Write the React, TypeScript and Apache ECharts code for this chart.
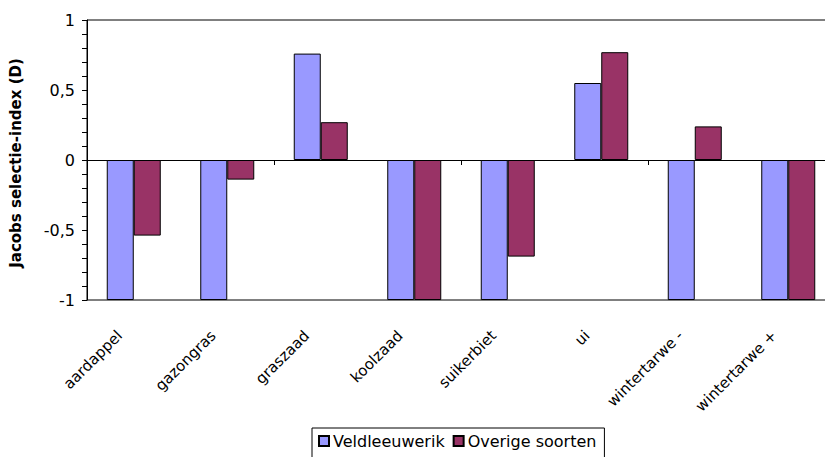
import React, { useEffect, useRef } from "react";
import * as echarts from "echarts";

const categories = [
  "aardappel",
  "gazongras",
  "graszaad",
  "koolzaad",
  "suikerbiet",
  "ui",
  "wintertarwe -",
  "wintertarwe +",
];
const veldleeuwerik = [-1, -1, 0.76, -1, -1, 0.55, -1, -1];
const overigeSoorten = [-0.54, -0.14, 0.27, -1, -0.69, 0.77, 0.24, -1];

const FONT = "DejaVu Sans";

export default function App() {
  const ref = useRef<HTMLDivElement>(null);

  useEffect(() => {
    if (!ref.current) return;
    const chart = echarts.init(ref.current, null, { renderer: "svg" });
    chart.setOption({
      animation: false,
      backgroundColor: "#ffffff",
      textStyle: { fontFamily: FONT, color: "#000" },
      // the plot area runs past the right edge of the visible frame
      grid: {
        left: 84,
        top: 20,
        width: 751,
        height: 280,
        show: true,
        borderColor: "#000",
        borderWidth: 1,
        backgroundColor: "#fff",
      },
      legend: {
        left: 312,
        top: 428,
        padding: [5, 8, 14, 6],
        borderColor: "#000",
        borderWidth: 1,
        borderRadius: 0,
        icon: "rect",
        itemWidth: 10,
        itemHeight: 10,
        itemGap: 8,
        textStyle: { fontFamily: FONT, fontSize: 16, color: "#000", padding: [0, 0, 0, -1] },
        data: ["Veldleeuwerik", "Overige soorten"],
      },
      xAxis: [
        {
          type: "category",
          data: categories,
          position: "bottom",
          axisLine: { onZero: true, lineStyle: { color: "#000", width: 1 } },
          axisTick: { show: true, length: 5, lineStyle: { color: "#000" } },
          axisLabel: { show: false },
          splitLine: { show: false },
        },
        {
          type: "category",
          data: categories,
          position: "bottom",
          axisLine: { show: false, onZero: false },
          axisTick: { show: false },
          axisLabel: {
            rotate: 45,
            margin: 19,
            color: "#000",
            formatter: (v: string) => `{c|${v}}`,
            rich: {
              c: {
                fontFamily: FONT,
                fontSize: 15,
                color: "#000",
                padding: [0, 20, 0, 0],
              },
            },
          },
          splitLine: { show: false },
        },
      ],
      yAxis: {
        type: "value",
        min: -1,
        max: 1,
        interval: 0.5,
        name: "Jacobs selectie-index (D)",
        nameLocation: "middle",
        nameGap: 64,
        nameTextStyle: {
          fontFamily: FONT,
          fontSize: 15,
          fontWeight: "bold",
          color: "#000",
          padding: [0, 6, 0, 0],
        },
        axisLine: { show: true, onZero: false, lineStyle: { color: "#000", width: 1 } },
        axisTick: { show: true, length: 5, lineStyle: { color: "#000" } },
        minorTick: { show: true, splitNumber: 5, length: 5, lineStyle: { color: "#000" } },
        splitLine: { show: false },
        axisLabel: {
          margin: 12,
          fontFamily: FONT,
          fontSize: 16,
          color: "#000",
          formatter: (v: number) => String(v).replace(".", ","),
        },
      },
      series: [
        {
          name: "Veldleeuwerik",
          type: "bar",
          xAxisIndex: 0,
          data: veldleeuwerik,
          barWidth: 27,
          barGap: "0%",
          itemStyle: { color: "#9999FF", borderColor: "#000", borderWidth: 1 },
        },
        {
          name: "Overige soorten",
          type: "bar",
          xAxisIndex: 0,
          data: overigeSoorten,
          barWidth: 27,
          barGap: "0%",
          itemStyle: { color: "#993366", borderColor: "#000", borderWidth: 1 },
        },
      ],
    });
    return () => chart.dispose();
  }, []);

  return (
    <div
      style={{
        position: "absolute",
        left: 0,
        top: 0,
        width: 825,
        height: 457,
        overflow: "hidden",
        background: "#fff",
      }}
    >
      <div ref={ref} style={{ width: 850, height: 457 }} />
    </div>
  );
}
